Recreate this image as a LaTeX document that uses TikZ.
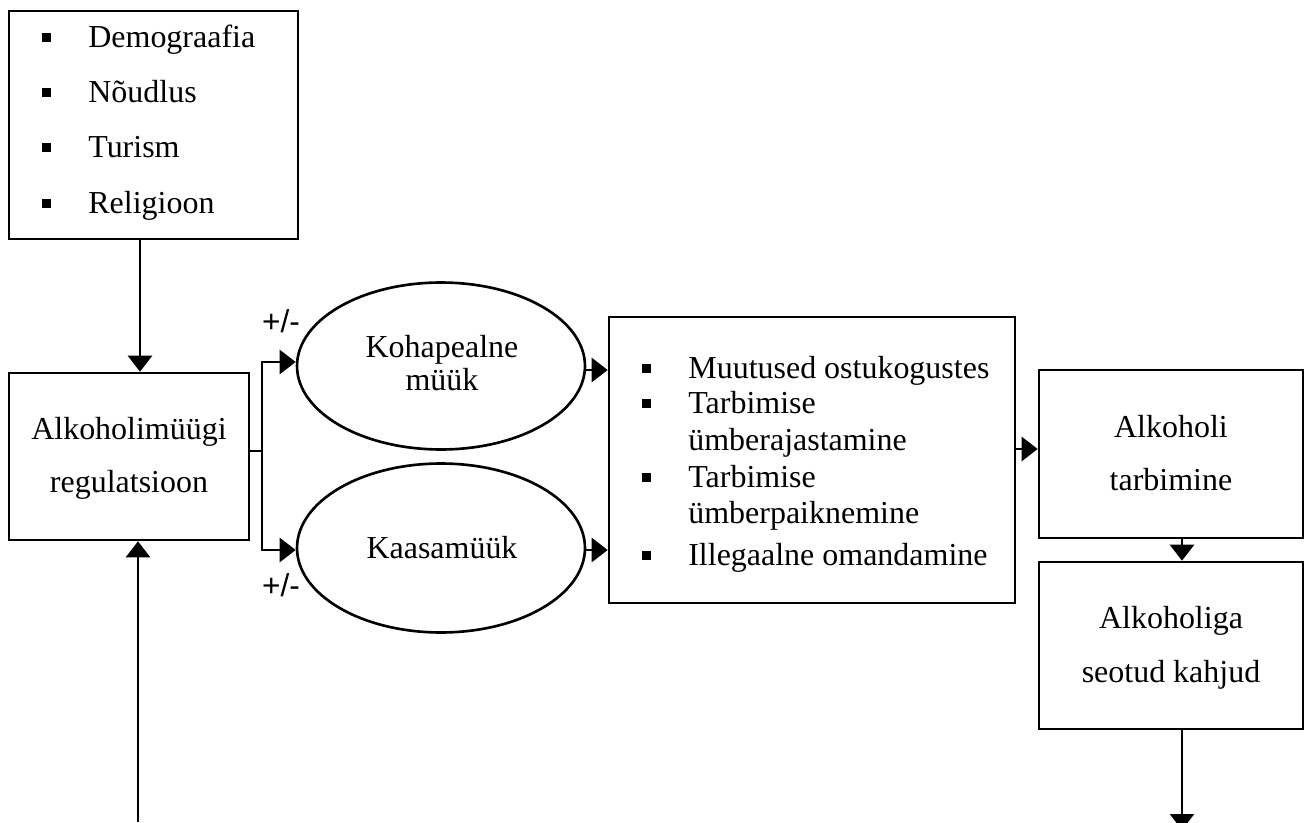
\documentclass[tikz,border=0pt]{standalone}
\usepackage{fontspec}
\setmainfont{Liberation Serif}
\newfontfamily\arialf{Liberation Sans}
\usetikzlibrary{arrows.meta,shapes.geometric}
\newcommand\sqb{\makebox[0.92cm][l]{\rule[0.11cm]{0.18cm}{0.18cm}}}
\tikzset{
  box/.style={draw, line width=1.5pt, rectangle, inner sep=0pt},
  ell/.style={draw, line width=1.5pt, ellipse, inner sep=0pt, minimum width=5.76cm, minimum height=3.34cm},
  txt/.style={inner sep=0pt, anchor=base, font=\fontsize{18.2}{22}\selectfont},
  ltxt/.style={inner sep=0pt, anchor=base west, font=\fontsize{18.2}{22}\selectfont},
  pm/.style={inner sep=0pt, anchor=base, font=\arialf\fontsize{18}{21}\selectfont},
  conn/.style={line width=1.5pt},
  arr/.style={line width=1.5pt, -{Triangle[length=0.32cm, width=0.48cm]}}
}
\begin{document}
\begin{tikzpicture}[x=0.02cm, y=-0.02cm]
\clip (0,0) rectangle (1309,822);
\fill[white] (0,0) rectangle (1309,822);
% boxes
\node[box, minimum width=5.78cm, minimum height=4.56cm] (topbox) at (153.5,125) {};
\node[box, minimum width=4.8cm, minimum height=3.34cm] (reg) at (129,456.5) {};
\node[ell] (e1) at (441,366) {};
\node[ell, minimum height=3.38cm] (e2) at (441,548) {};
\node[box, minimum width=8.12cm, minimum height=5.72cm] (mid) at (812,460) {};
\node[box, minimum width=5.28cm, minimum height=3.36cm] (tarb) at (1171,454) {};
\node[box, minimum width=5.28cm, minimum height=3.34cm] (harm) at (1171,645.5) {};
% texts
\node[ltxt] (d1) at (42,47) {\sqb Demograafia};
\node[ltxt] (d2) at (42,102) {\sqb Nõudlus};
\node[ltxt] (d3) at (42,157) {\sqb Turism};
\node[ltxt] (d4) at (42,213) {\sqb Religioon};
\node[txt] (r1) at (129,439) {Alkoholimüügi};
\node[txt] (r2) at (129,492) {regulatsioon};
\node[txt] (k1) at (442,357) {Kohapealne};
\node[txt] (k2) at (442,390) {müük};
\node[txt] (k3) at (442,558) {Kaasamüük};
\node[ltxt] (m1) at (642,378) {\sqb Muutused ostukogustes};
\node[ltxt] (m2) at (642,413) {\sqb Tarbimise};
\node[ltxt] (m3) at (688,450) {ümberajastamine};
\node[ltxt] (m4) at (642,487) {\sqb Tarbimise};
\node[ltxt] (m5) at (688,523) {ümberpaiknemine};
\node[ltxt] (m6) at (642,565) {\sqb Illegaalne omandamine};
\node[txt] (a1) at (1171,437) {Alkoholi};
\node[txt] (a2) at (1171,490) {tarbimine};
\node[txt] (h1) at (1171,628) {Alkoholiga};
\node[txt] (h2) at (1171,682) {seotud kahjud};
\node[pm] (pm1) at (281,332) {+/-};
\node[pm] (pm2) at (281,596) {+/-};
% helper coordinates
\coordinate (xa) at (140,0);
\coordinate (bx) at (262,0);
\coordinate (yb) at (0,451);
\coordinate (y1) at (0,362);
\coordinate (y2) at (0,550);
\coordinate (y3) at (0,370);
\coordinate (y4) at (0,449);
\coordinate (xr) at (1182,0);
\coordinate (out) at (1182,830);
\coordinate (fb) at (138,822);
% connectors
\draw[arr] (topbox.south -| xa) -- (reg.north -| xa);
\draw[conn] (reg.east |- yb) -- (bx |- yb);
\draw[arr] (bx |- yb) |- (e1.west |- y1);
\draw[arr] (bx |- yb) |- (e2.west |- y2);
\draw[arr] (e1.east |- y3) -- (mid.west |- y3);
\draw[arr] (e2.east |- y2) -- (mid.west |- y2);
\draw[arr] (mid.east |- y4) -- (tarb.west |- y4);
\draw[arr] (tarb.south -| xr) -- (harm.north -| xr);
\draw[arr] (harm.south -| xr) -- (out);
\draw[arr] (fb) -- (reg.south -| fb);
\end{tikzpicture}
\end{document}
